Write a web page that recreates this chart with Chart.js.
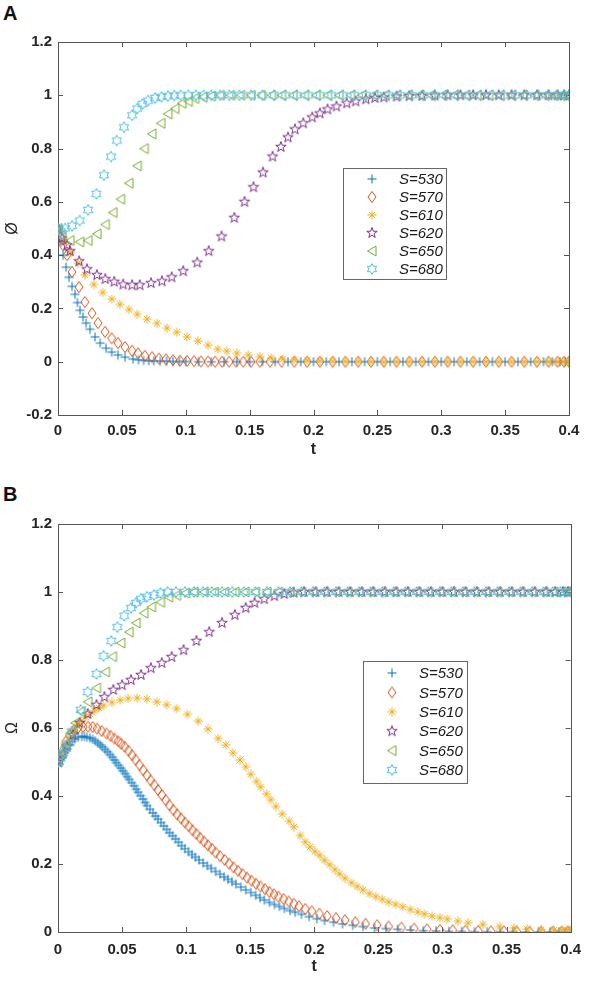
<!DOCTYPE html>
<html>
<head>
<meta charset="utf-8">
<script src="https://cdn.jsdelivr.net/npm/chart.js@4.4.1/dist/chart.umd.min.js"></script>
<style>
  body { margin: 0; background: #fff; width: 590px; height: 982px; position: relative; overflow: hidden; }
  .panel { position: absolute; left: 0; }
  .tag { position: absolute; left: 3px; font: bold 20px "Liberation Sans", Arial, sans-serif; color: #111; }
</style>
</head>
<body>
<div class="tag" style="top:2px">A</div>
<div class="tag" style="top:483px">B</div>
<canvas id="chartA" class="panel" style="top:0" width="590" height="470"></canvas>
<canvas id="chartB" class="panel" style="top:480px" width="590" height="502"></canvas>
<script>
const seriesNames = ["S=530", "S=570", "S=610", "S=620", "S=650", "S=680"];
const seriesColors = ["#0072BD", "#D95319", "#EDB120", "#7E2F8E", "#77AC30", "#4DBEEE"];
const markerKinds = ["plus", "diamond", "asterisk", "pentagram", "triangleLeft", "hexagram"];

const xTickVals = [0, 0.05, 0.1, 0.15, 0.2, 0.25, 0.3, 0.35, 0.4];
const xTickLabels = ["0", "0.05", "0.1", "0.15", "0.2", "0.25", "0.3", "0.35", "0.4"];
const yTickValsA = [-0.2, 0, 0.2, 0.4, 0.6, 0.8, 1, 1.2];
const yTickLabelsA = ["-0.2", "0", "0.2", "0.4", "0.6", "0.8", "1", "1.2"];
const yTickValsB = [0, 0.2, 0.4, 0.6, 0.8, 1, 1.2];
const yTickLabelsB = ["0", "0.2", "0.4", "0.6", "0.8", "1", "1.2"];

// panel A : phi(t), points as [t, value]
const a530 = [[0,0.5],[0.0023,0.45],[0.004,0.40],[0.0063,0.355],[0.0086,0.317],[0.011,0.283],[0.0133,0.253],[0.0152,0.222],[0.0172,0.193],[0.0196,0.168],[0.022,0.145],[0.025,0.122],[0.029,0.093],[0.033,0.07],[0.0376,0.051],[0.042,0.036],[0.047,0.025],[0.0524,0.017],[0.0587,0.01],[0.063,0.007],[0.067,0.005],[0.071,0.004],[0.075,0.003],[0.08,0.002],[0.085,0.002],[0.09,0.001],[0.095,0.001],[0.1,0.001],[0.11,0],[0.12,0],[0.13,0],[0.14,0],[0.15,0],[0.16,0],[0.17,0],[0.18,0],[0.19,0],[0.2,0],[0.21,0],[0.22,0],[0.23,0],[0.24,0],[0.25,0],[0.26,0],[0.27,0],[0.28,0],[0.29,0],[0.3,0],[0.31,0],[0.32,0],[0.33,0],[0.34,0],[0.35,0],[0.36,0],[0.37,0],[0.38,0],[0.387,0],[0.393,0],[0.397,0],[0.4,0]];
const a570 = [[0,0.5],[0.002,0.47],[0.004,0.437],[0.007,0.40],[0.011,0.337],[0.0164,0.28],[0.021,0.224],[0.0266,0.182],[0.0313,0.145],[0.0368,0.112],[0.042,0.088],[0.047,0.07],[0.0524,0.055],[0.058,0.041],[0.0626,0.032],[0.068,0.022],[0.0736,0.017],[0.079,0.012],[0.0845,0.009],[0.09,0.006],[0.0955,0.004],[0.101,0.003],[0.1065,0.002],[0.112,0.001],[0.1175,0.001],[0.123,0],[0.1285,0],[0.134,0],[0.1395,0],[0.145,0],[0.151,0],[0.158,0],[0.166,0],[0.175,0],[0.185,0],[0.195,0],[0.205,0],[0.215,0],[0.225,0],[0.235,0],[0.245,0],[0.255,0],[0.265,0],[0.275,0],[0.285,0],[0.295,0],[0.305,0],[0.315,0],[0.325,0],[0.335,0],[0.345,0],[0.355,0],[0.365,0],[0.375,0],[0.384,0],[0.391,0],[0.396,0],[0.4,0]];
const a610 = [[0,0.5],[0.0016,0.493],[0.0055,0.45],[0.01,0.41],[0.0157,0.37],[0.021,0.325],[0.028,0.29],[0.035,0.26],[0.042,0.235],[0.0485,0.215],[0.0556,0.196],[0.062,0.178],[0.0697,0.16],[0.0775,0.144],[0.0853,0.126],[0.093,0.111],[0.101,0.093],[0.1096,0.078],[0.1174,0.062],[0.125,0.047],[0.132,0.04],[0.14,0.032],[0.149,0.025],[0.158,0.019],[0.167,0.014],[0.176,0.01],[0.185,0.007],[0.195,0.005],[0.205,0.003],[0.215,0.002],[0.225,0.001],[0.235,0.001],[0.245,0],[0.255,0],[0.265,0],[0.275,0],[0.285,0],[0.295,0],[0.305,0],[0.315,0],[0.325,0],[0.335,0],[0.345,0],[0.355,0],[0.365,0],[0.375,0],[0.384,0],[0.391,0],[0.396,0],[0.4,0]];
const a620 = [[0,0.5],[0.003,0.463],[0.007,0.437],[0.0094,0.415],[0.0165,0.377],[0.0227,0.347],[0.0305,0.325],[0.037,0.31],[0.044,0.30],[0.051,0.29],[0.058,0.287],[0.064,0.287],[0.0728,0.295],[0.0814,0.302],[0.089,0.317],[0.098,0.34],[0.109,0.372],[0.118,0.415],[0.128,0.47],[0.138,0.54],[0.146,0.60],[0.153,0.655],[0.1605,0.71],[0.168,0.77],[0.1745,0.806],[0.180,0.842],[0.1855,0.872],[0.192,0.895],[0.199,0.917],[0.205,0.932],[0.211,0.947],[0.218,0.958],[0.226,0.97],[0.233,0.977],[0.241,0.985],[0.248,0.99],[0.255,0.992],[0.265,0.995],[0.275,0.997],[0.285,0.998],[0.295,0.999],[0.305,1],[0.315,1],[0.325,1],[0.335,1],[0.345,1],[0.355,1],[0.365,1],[0.375,1],[0.384,1],[0.391,1],[0.396,1],[0.4,1]];
const a650 = [[0,0.5],[0.003,0.475],[0.0094,0.455],[0.017,0.45],[0.0235,0.455],[0.0305,0.48],[0.037,0.515],[0.043,0.56],[0.049,0.61],[0.0555,0.67],[0.062,0.735],[0.0675,0.80],[0.0735,0.855],[0.0805,0.895],[0.086,0.93],[0.0915,0.95],[0.097,0.97],[0.102,0.977],[0.107,0.988],[0.1135,0.993],[0.12,0.997],[0.127,1],[0.135,1],[0.143,1],[0.151,1],[0.159,1],[0.167,1],[0.175,1],[0.184,1],[0.193,1],[0.202,1],[0.211,1],[0.22,1],[0.229,1],[0.238,1],[0.247,1],[0.256,1],[0.265,1],[0.274,1],[0.283,1],[0.292,1],[0.301,1],[0.31,1],[0.319,1],[0.328,1],[0.337,1],[0.346,1],[0.355,1],[0.364,1],[0.373,1],[0.381,1],[0.388,1],[0.394,1],[0.398,1],[0.4,1]];
const a680 = [[0,0.5],[0.002,0.49],[0.0055,0.50],[0.011,0.51],[0.017,0.53],[0.0235,0.57],[0.030,0.63],[0.036,0.70],[0.0415,0.77],[0.046,0.83],[0.0517,0.88],[0.058,0.925],[0.062,0.95],[0.066,0.967],[0.0705,0.98],[0.076,0.99],[0.081,0.994],[0.086,0.997],[0.091,0.999],[0.096,1],[0.102,1],[0.108,1],[0.114,1],[0.12,1],[0.127,1],[0.134,1],[0.142,1],[0.151,1],[0.16,1],[0.169,1],[0.178,1],[0.187,1],[0.196,1],[0.205,1],[0.214,1],[0.223,1],[0.232,1],[0.241,1],[0.25,1],[0.259,1],[0.268,1],[0.277,1],[0.286,1],[0.295,1],[0.304,1],[0.313,1],[0.322,1],[0.331,1],[0.34,1],[0.349,1],[0.358,1],[0.367,1],[0.376,1],[0.384,1],[0.391,1],[0.396,1],[0.4,1]];

// panel B : omega(t)
const b530 = [[0,0.5],[0.0025,0.514],[0.005,0.526],[0.0072,0.539],[0.0093,0.55],[0.0112,0.561],[0.013,0.568],[0.0158,0.573],[0.0185,0.575],[0.0205,0.575],[0.0224,0.573],[0.0248,0.571],[0.027,0.567],[0.029,0.562],[0.031,0.556],[0.033,0.55],[0.0347,0.544],[0.0367,0.537],[0.0386,0.53],[0.0405,0.522],[0.0424,0.514],[0.044,0.506],[0.0455,0.498],[0.0473,0.49],[0.049,0.482],[0.0507,0.474],[0.0524,0.466],[0.054,0.457],[0.0555,0.449],[0.0575,0.439],[0.0594,0.43],[0.061,0.42],[0.0625,0.411],[0.0644,0.401],[0.0663,0.391],[0.068,0.381],[0.0694,0.372],[0.0717,0.361],[0.074,0.35],[0.076,0.341],[0.078,0.332],[0.0803,0.322],[0.0825,0.312],[0.0848,0.302],[0.087,0.292],[0.0894,0.283],[0.0917,0.274],[0.094,0.264],[0.0964,0.254],[0.099,0.245],[0.1018,0.236],[0.1045,0.228],[0.1072,0.22],[0.110,0.212],[0.1133,0.203],[0.1165,0.195],[0.1195,0.187],[0.123,0.178],[0.1265,0.17],[0.1296,0.162],[0.1326,0.155],[0.1357,0.148],[0.1388,0.141],[0.1427,0.132],[0.1465,0.124],[0.1505,0.116],[0.1542,0.108],[0.1576,0.101],[0.161,0.094],[0.165,0.087],[0.1689,0.081],[0.1728,0.075],[0.1766,0.069],[0.181,0.063],[0.185,0.058],[0.19,0.052],[0.196,0.045],[0.202,0.039],[0.208,0.034],[0.215,0.029],[0.222,0.024],[0.23,0.02],[0.238,0.016],[0.247,0.012],[0.256,0.01],[0.265,0.008],[0.275,0.006],[0.285,0.004],[0.295,0.003],[0.305,0.002],[0.315,0.002],[0.325,0.001],[0.335,0.001],[0.345,0.001],[0.355,0.001],[0.365,0],[0.375,0],[0.384,0],[0.391,0],[0.396,0],[0.4,0]];
const b570 = [[0,0.5],[0.003,0.53],[0.006,0.56],[0.009,0.58],[0.0125,0.593],[0.0156,0.60],[0.0196,0.603],[0.0235,0.604],[0.027,0.603],[0.0305,0.598],[0.034,0.591],[0.0378,0.584],[0.041,0.577],[0.044,0.569],[0.047,0.561],[0.0493,0.554],[0.052,0.545],[0.055,0.533],[0.0578,0.52],[0.0605,0.507],[0.0636,0.491],[0.0665,0.476],[0.0694,0.461],[0.0722,0.446],[0.0752,0.432],[0.078,0.418],[0.081,0.403],[0.084,0.388],[0.087,0.373],[0.09,0.359],[0.093,0.346],[0.096,0.334],[0.099,0.322],[0.102,0.311],[0.105,0.299],[0.108,0.288],[0.111,0.277],[0.114,0.266],[0.117,0.255],[0.12,0.245],[0.123,0.234],[0.1265,0.223],[0.13,0.212],[0.1335,0.201],[0.137,0.19],[0.1405,0.18],[0.144,0.17],[0.1475,0.16],[0.151,0.151],[0.1545,0.142],[0.158,0.134],[0.1615,0.126],[0.165,0.118],[0.1685,0.111],[0.172,0.104],[0.176,0.097],[0.18,0.09],[0.184,0.083],[0.188,0.076],[0.193,0.068],[0.198,0.061],[0.204,0.054],[0.21,0.047],[0.217,0.041],[0.224,0.035],[0.232,0.029],[0.24,0.024],[0.249,0.02],[0.258,0.016],[0.268,0.013],[0.278,0.01],[0.288,0.008],[0.298,0.006],[0.308,0.005],[0.318,0.004],[0.328,0.003],[0.338,0.002],[0.348,0.002],[0.358,0.001],[0.368,0.001],[0.377,0.001],[0.386,0.001],[0.393,0.001],[0.398,0.001],[0.4,0.001]];
const b610 = [[0,0.5],[0.003,0.525],[0.006,0.55],[0.009,0.572],[0.012,0.592],[0.015,0.607],[0.018,0.62],[0.0215,0.632],[0.025,0.641],[0.0285,0.65],[0.032,0.659],[0.0355,0.666],[0.042,0.675],[0.0486,0.682],[0.0547,0.687],[0.0617,0.688],[0.0694,0.685],[0.0771,0.677],[0.0848,0.668],[0.0925,0.657],[0.101,0.64],[0.1095,0.62],[0.117,0.597],[0.125,0.569],[0.131,0.55],[0.1365,0.527],[0.142,0.506],[0.1465,0.486],[0.1504,0.464],[0.155,0.443],[0.158,0.427],[0.1627,0.406],[0.166,0.389],[0.170,0.369],[0.175,0.347],[0.1804,0.326],[0.184,0.309],[0.189,0.284],[0.193,0.265],[0.1966,0.25],[0.2005,0.237],[0.2043,0.225],[0.208,0.211],[0.212,0.198],[0.216,0.184],[0.2197,0.171],[0.224,0.158],[0.229,0.145],[0.2335,0.134],[0.238,0.124],[0.243,0.113],[0.248,0.104],[0.253,0.096],[0.258,0.088],[0.2635,0.081],[0.269,0.074],[0.275,0.066],[0.2807,0.059],[0.286,0.053],[0.292,0.047],[0.298,0.042],[0.3038,0.038],[0.312,0.032],[0.32,0.027],[0.3315,0.022],[0.3446,0.016],[0.356,0.012],[0.366,0.009],[0.377,0.007],[0.387,0.006],[0.393,0.005],[0.397,0.005],[0.4,0.005]];
const b620 = [[0,0.5],[0.0015,0.505],[0.004,0.525],[0.007,0.545],[0.0118,0.58],[0.0169,0.615],[0.0232,0.641],[0.030,0.668],[0.0362,0.691],[0.0432,0.712],[0.050,0.726],[0.057,0.741],[0.0648,0.756],[0.0725,0.776],[0.081,0.791],[0.0887,0.809],[0.098,0.829],[0.108,0.856],[0.118,0.882],[0.128,0.909],[0.138,0.932],[0.1465,0.953],[0.1534,0.968],[0.161,0.979],[0.1689,0.988],[0.1766,0.994],[0.184,0.998],[0.192,1],[0.201,1],[0.21,1],[0.219,1],[0.228,1],[0.237,1],[0.246,1],[0.255,1],[0.264,1],[0.273,1],[0.282,1],[0.291,1],[0.3,1],[0.309,1],[0.318,1],[0.327,1],[0.336,1],[0.345,1],[0.354,1],[0.363,1],[0.372,1],[0.381,1],[0.388,1],[0.394,1],[0.398,1],[0.4,1]];
const b650 = [[0,0.5],[0.003,0.525],[0.006,0.552],[0.01,0.585],[0.0135,0.615],[0.018,0.648],[0.0233,0.677],[0.030,0.718],[0.037,0.765],[0.0425,0.81],[0.049,0.85],[0.0555,0.882],[0.061,0.909],[0.067,0.938],[0.073,0.956],[0.080,0.97],[0.0863,0.985],[0.0925,0.99],[0.0995,0.997],[0.106,1],[0.114,1],[0.122,1],[0.13,1],[0.138,1],[0.146,1],[0.154,1],[0.163,1],[0.172,1],[0.181,1],[0.19,1],[0.199,1],[0.208,1],[0.217,1],[0.226,1],[0.235,1],[0.244,1],[0.253,1],[0.262,1],[0.271,1],[0.28,1],[0.289,1],[0.298,1],[0.307,1],[0.316,1],[0.325,1],[0.334,1],[0.343,1],[0.352,1],[0.361,1],[0.37,1],[0.379,1],[0.387,1],[0.393,1],[0.397,1],[0.4,1]];
const b680 = [[0,0.5],[0.002,0.51],[0.004,0.526],[0.006,0.54],[0.008,0.555],[0.0108,0.59],[0.0177,0.653],[0.0231,0.706],[0.030,0.759],[0.0355,0.812],[0.0416,0.856],[0.0463,0.897],[0.0517,0.93],[0.057,0.953],[0.0609,0.968],[0.0648,0.98],[0.0694,0.986],[0.0748,0.991],[0.080,0.997],[0.0855,1],[0.092,1],[0.099,1],[0.106,1],[0.113,1],[0.12,1],[0.128,1],[0.136,1],[0.145,1],[0.154,1],[0.163,1],[0.172,1],[0.181,1],[0.19,1],[0.199,1],[0.208,1],[0.217,1],[0.226,1],[0.235,1],[0.244,1],[0.253,1],[0.262,1],[0.271,1],[0.28,1],[0.289,1],[0.298,1],[0.307,1],[0.316,1],[0.325,1],[0.334,1],[0.343,1],[0.352,1],[0.361,1],[0.37,1],[0.379,1],[0.386,1],[0.392,1],[0.396,1],[0.4,1]];

const seriesA = [a530, a570, a610, a620, a650, a680];
const seriesB = [b530, b570, b610, b620, b650, b680];

const FONT = '"Liberation Sans", Arial, sans-serif';

// MATLAB-like open markers drawn once on small canvases
function makeMarker(kind, color) {
  const c = document.createElement("canvas");
  c.width = 14; c.height = 14;
  const g = c.getContext("2d");
  g.strokeStyle = color;
  g.lineWidth = 1;
  g.translate(7, 7);
  g.beginPath();
  if (kind === "plus") {
    g.moveTo(-4.5, 0); g.lineTo(4.5, 0);
    g.moveTo(0, -4.5); g.lineTo(0, 4.5);
  } else if (kind === "diamond") {
    g.moveTo(0, -5.5); g.lineTo(4, 0); g.lineTo(0, 5.5); g.lineTo(-4, 0); g.closePath();
  } else if (kind === "asterisk") {
    for (let k = 0; k < 4; k++) {
      const a = k * Math.PI / 4;
      g.moveTo(-4.5 * Math.cos(a), -4.5 * Math.sin(a));
      g.lineTo(4.5 * Math.cos(a), 4.5 * Math.sin(a));
    }
  } else if (kind === "pentagram") {
    for (let k = 0; k < 10; k++) {
      const r = k % 2 ? 2.2 : 5.5;
      const a = -Math.PI / 2 + k * Math.PI / 5;
      k ? g.lineTo(r * Math.cos(a), r * Math.sin(a)) : g.moveTo(r * Math.cos(a), r * Math.sin(a));
    }
    g.closePath();
  } else if (kind === "triangleLeft") {
    g.moveTo(-4.5, 0); g.lineTo(4, -5); g.lineTo(4, 5); g.closePath();
  } else if (kind === "hexagram") {
    for (let k = 0; k < 12; k++) {
      const r = k % 2 ? 3.1 : 5.4;
      const a = -Math.PI / 2 + k * Math.PI / 6;
      k ? g.lineTo(r * Math.cos(a), r * Math.sin(a)) : g.moveTo(r * Math.cos(a), r * Math.sin(a));
    }
    g.closePath();
  }
  g.stroke();
  return c;
}
const markers = markerKinds.map((k, i) => makeMarker(k, seriesColors[i]));

// box, inward ticks and legend
const matlabAxes = {
  id: "matlabAxes",
  beforeDatasetsDraw(chart) {
    const { ctx, chartArea: a, scales: { x, y } } = chart;
    ctx.save();
    ctx.strokeStyle = "#555";
    ctx.lineWidth = 1;
    ctx.strokeRect(Math.round(a.left) + 0.5, Math.round(a.top) + 0.5,
      Math.round(a.right - a.left), Math.round(a.bottom - a.top));
    ctx.beginPath();
    x.ticks.forEach(t => {
      const p = Math.round(x.getPixelForValue(t.value)) + 0.5;
      ctx.moveTo(p, a.bottom); ctx.lineTo(p, a.bottom - 5);
      ctx.moveTo(p, a.top); ctx.lineTo(p, a.top + 5);
    });
    y.ticks.forEach(t => {
      const p = Math.round(y.getPixelForValue(t.value)) + 0.5;
      ctx.moveTo(a.left, p); ctx.lineTo(a.left + 5, p);
      ctx.moveTo(a.right, p); ctx.lineTo(a.right - 5, p);
    });
    ctx.stroke();
    ctx.restore();
  },
  afterDatasetsDraw(chart, args, o) {
    const ctx = chart.ctx;
    ctx.save();
    ctx.fillStyle = "#fff";
    ctx.fillRect(o.left, o.top, o.width, o.height);
    ctx.strokeStyle = "#666";
    ctx.lineWidth = 1;
    ctx.strokeRect(o.left + 0.5, o.top + 0.5, o.width, o.height);
    ctx.font = "italic 15px " + FONT;
    ctx.fillStyle = "#1a1a1a";
    ctx.textBaseline = "middle";
    seriesNames.forEach((name, i) => {
      const yy = o.top + o.firstRow + i * o.rowGap;
      const m = markers[i];
      ctx.drawImage(m, o.left + o.markerX - m.width / 2, yy - m.height / 2);
      ctx.fillText(name, o.left + o.textX, yy + 1);
    });
    ctx.restore();
  }
};

function makeChart(id, series, yVals, yLabels, yTitle, yMin, pad, legendBox, xPad) {
  const datasets = series.map((pts, i) => ({
    label: seriesNames[i],
    data: pts.map(p => ({ x: p[0], y: p[1] })),
    pointStyle: markers[i],
    showLine: false,
    order: series.length - i
  }));
  const tickFont = { family: FONT, size: 15, weight: "bold" };
  return new Chart(document.getElementById(id), {
    type: "scatter",
    data: { datasets },
    options: {
      responsive: false,
      devicePixelRatio: 1,
      animation: false,
      events: [],
      layout: { padding: pad },
      plugins: { legend: { display: false }, tooltip: { enabled: false }, matlabAxes: legendBox },
      scales: {
        x: {
          type: "linear", min: 0, max: 0.4,
          afterBuildTicks: s => { s.ticks = xTickVals.map(v => ({ value: v })); },
          afterFit: s => { s.height = 45; },
          grid: { display: false, drawTicks: false },
          border: { display: false },
          ticks: { padding: xPad, color: "#262626", font: tickFont, maxRotation: 0,
            callback: (v, i) => xTickLabels[i] },
          title: { display: true, text: "t", color: "#262626", font: { family: FONT, size: 16, weight: "bold" }, padding: { top: 0, bottom: 1 } }
        },
        y: {
          type: "linear", min: yMin, max: 1.2,
          afterBuildTicks: s => { s.ticks = yVals.map(v => ({ value: v })); },
          afterFit: s => { s.width = 58; },
          grid: { display: false, drawTicks: false },
          border: { display: false },
          ticks: { padding: 6, color: "#262626", font: tickFont,
            callback: (v, i) => yLabels[i] },
          title: { display: true, text: yTitle, color: "#262626", font: { family: FONT, size: 16 }, padding: { top: 3, bottom: 0 } }
        }
      }
    },
    plugins: [matlabAxes]
  });
}

makeChart("chartA", seriesA, yTickValsA, yTickLabelsA, "Ø", -0.2,
  { top: 42, right: 21, bottom: 10, left: 0 },
  { left: 343, top: 168, width: 103, height: 111, firstRow: 11, rowGap: 18, markerX: 29, textX: 56 }, 7);
makeChart("chartB", seriesB, yTickValsB, yTickLabelsB, "Ω", 0,
  { top: 44, right: 13, bottom: 5, left: 0 },
  { left: 363, top: 181, width: 104, height: 122, firstRow: 12, rowGap: 19.4, markerX: 29, textX: 56 }, 9);
</script>
</body>
</html>
